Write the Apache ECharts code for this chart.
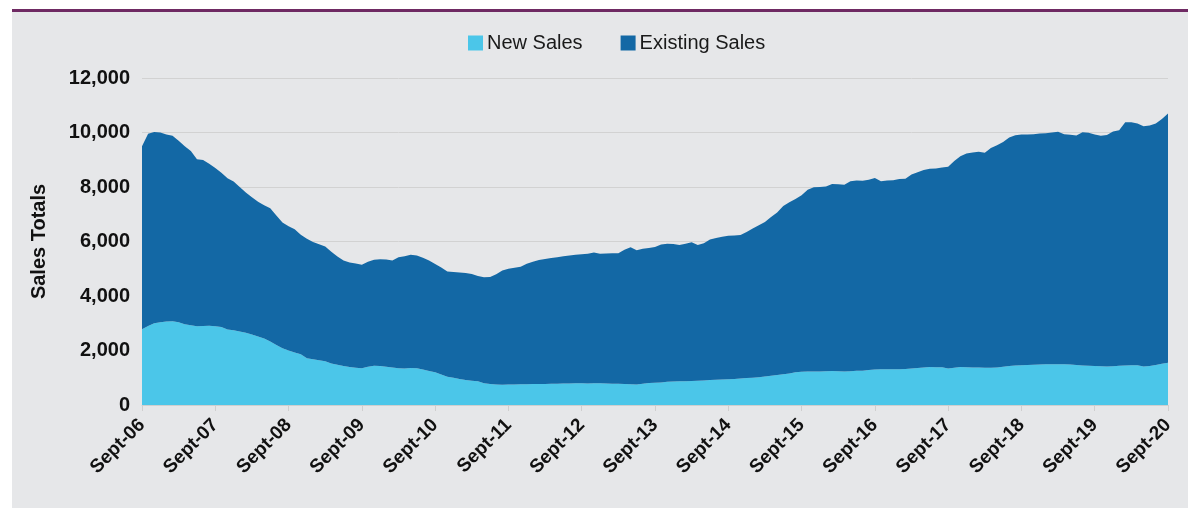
<!DOCTYPE html>
<html>
<head>
<meta charset="utf-8">
<script src="https://cdn.jsdelivr.net/npm/echarts@6/dist/echarts.min.js"></script>
<style>
  html, body { margin: 0; padding: 0; background: #ffffff; }
  #wrap { position: relative; width: 1188px; height: 510px; overflow: hidden; }
  #panel { position: absolute; left: 12px; top: 12px; width: 1176px; height: 496px; background: #e6e7e9; }
  #rule { position: absolute; left: 12px; top: 9px; width: 1176px; height: 3px; background: #6f2a63; }
  #chart { position: absolute; left: 0; top: 0; width: 1188px; height: 510px; }
</style>
</head>
<body>
<div id="wrap">
  <div id="panel"></div>
  <div id="rule"></div>
  <div id="chart"></div>
</div>
<script>
// Monthly sales, September 2006 through September 2020
const monthNames = ['Sept', 'Oct', 'Nov', 'Dec', 'Jan', 'Feb', 'Mar', 'Apr', 'May', 'Jun', 'Jul', 'Aug'];
const startYear = 2006;
const monthCount = 169;

const newSales = [
  2780, 2900, 3000, 3040, 3060, 3070, 3040, 2960, 2930, 2890, 2900, 2910,
  2890, 2860, 2770, 2740, 2700, 2650, 2590, 2510, 2440, 2330, 2200, 2080,
  2000, 1930, 1860, 1720, 1680, 1640, 1610, 1520, 1480, 1430, 1390, 1370,
  1350, 1400, 1440, 1430, 1400, 1380, 1350, 1340, 1360, 1350, 1300, 1250,
  1200, 1120, 1040, 1000, 950, 920, 890, 870, 800, 770, 750, 740,
  750, 750, 760, 760, 770, 775, 775, 780, 780, 790, 790, 800,
  800, 790, 800, 795, 790, 780, 780, 770, 760, 750, 780, 810,
  820, 830, 850, 860, 870, 875, 880, 890, 900, 915, 925, 935,
  945, 955, 970, 990, 1000, 1020, 1050, 1070, 1100, 1130, 1160, 1200,
  1220, 1230, 1225, 1230, 1240, 1250, 1240, 1225, 1240, 1255, 1260, 1280,
  1300, 1310, 1310, 1310, 1315, 1320, 1340, 1360, 1380, 1390, 1385, 1385,
  1340, 1370, 1390, 1385, 1380, 1375, 1370, 1370, 1380, 1400, 1430, 1450,
  1460, 1470, 1480, 1490, 1495, 1495, 1495, 1495, 1490, 1470, 1450, 1440,
  1430, 1420, 1410, 1420, 1440, 1445, 1455, 1460, 1410, 1430, 1470, 1510,
  1555
];

const existingSales = [
  6720, 7050, 7020, 6960, 6870, 6810, 6660, 6540, 6390, 6130, 6090, 5940,
  5810, 5660, 5550, 5460, 5300, 5150, 5030, 4950, 4890, 4890, 4750, 4620,
  4560, 4520, 4390, 4380, 4300, 4260, 4210, 4100, 3970, 3870, 3840, 3820,
  3800, 3860, 3890, 3920, 3940, 3920, 4070, 4120, 4150, 4140, 4100, 4050,
  3970, 3930, 3860, 3880, 3910, 3920, 3920, 3860, 3890, 3930, 4050, 4200,
  4250, 4290, 4310, 4420, 4490, 4545, 4585, 4610, 4640, 4670, 4700, 4710,
  4730, 4760, 4800, 4755, 4770, 4790, 4790, 4930, 5030, 4930, 4950, 4950,
  4980, 5060, 5070, 5050, 5000, 5045, 5090, 4980, 5040, 5155, 5205, 5235,
  5265, 5265, 5270, 5360, 5480, 5580, 5670, 5830, 5960, 6170, 6280, 6360,
  6480, 6670, 6765, 6770, 6780, 6860, 6860, 6855, 6970, 6985, 6970, 6990,
  7030, 6900, 6930, 6940, 6975, 6980, 7120, 7180, 7240, 7280, 7295, 7335,
  7400, 7580, 7740, 7845, 7890, 7915, 7890, 8060, 8150, 8250, 8390, 8450,
  8470, 8460, 8460, 8470, 8475, 8505, 8535, 8445, 8430, 8420, 8560, 8550,
  8500, 8460, 8500, 8620, 8640, 8935, 8925, 8870, 8820, 8830, 8860, 8990,
  9145
];

const yTicks = [0, 2000, 4000, 6000, 8000, 10000, 12000];

// Category labels such as "Sept-06", "Oct-06", ...
const categories = [];
for (let i = 0; i < monthCount; i++) {
  const y = startYear + Math.floor((i + 8) / 12);
  categories.push(monthNames[i % 12] + '-' + String(y % 100).padStart(2, '0'));
}

const FONT = '"Liberation Sans", Arial, sans-serif';
const chart = echarts.init(document.getElementById('chart'), null, { renderer: 'canvas' });

chart.setOption({
  backgroundColor: 'transparent',
  animation: false,
  textStyle: { fontFamily: FONT },
  legend: {
    left: 463,
    top: 28,
    itemWidth: 15,
    itemHeight: 15,
    itemGap: 38,
    icon: 'rect',
    textStyle: { fontFamily: FONT, fontSize: 20, color: '#1a1a1a', padding: [0, 0, 0, -1] },
    data: ['New Sales', 'Existing Sales']
  },
  grid: { left: 142, right: 20, top: 78, bottom: 105, containLabel: false },
  xAxis: {
    type: 'category',
    boundaryGap: false,
    data: categories,
    axisLine: { show: true, lineStyle: { color: '#cfcfcf', width: 1 } },
    axisTick: { show: true, interval: 11, length: 6, lineStyle: { color: '#cfcfcf' } },
    axisLabel: {
      interval: 11,
      rotate: 45,
      margin: 17,
      fontFamily: FONT,
      fontSize: 19,
      fontWeight: 'bold',
      color: '#111111'
    },
    splitLine: { show: false }
  },
  yAxis: {
    type: 'value',
    min: yTicks[0],
    max: yTicks[yTicks.length - 1],
    interval: yTicks[1] - yTicks[0],
    name: 'Sales Totals',
    nameLocation: 'middle',
    nameGap: 93,
    nameRotate: 90,
    nameTextStyle: { fontFamily: FONT, fontSize: 20, fontWeight: 'bold', color: '#111111' },
    axisLine: { show: false },
    axisTick: { show: false },
    axisLabel: {
      margin: 12,
      fontFamily: FONT,
      fontSize: 20,
      fontWeight: 'bold',
      color: '#111111',
      formatter: v => v.toLocaleString('en-US')
    },
    splitLine: { show: true, lineStyle: { color: '#d2d2d2', width: 1 } }
  },
  series: [
    {
      name: 'New Sales',
      type: 'line',
      stack: 'sales',
      data: newSales,
      showSymbol: false,
      lineStyle: { width: 0 },
      itemStyle: { color: '#4bc6e9' },
      areaStyle: { color: '#4bc6e9', opacity: 1 }
    },
    {
      name: 'Existing Sales',
      type: 'line',
      stack: 'sales',
      data: existingSales,
      showSymbol: false,
      lineStyle: { width: 0 },
      itemStyle: { color: '#1368a5' },
      areaStyle: { color: '#1368a5', opacity: 1 }
    }
  ]
});
</script>
</body>
</html>
